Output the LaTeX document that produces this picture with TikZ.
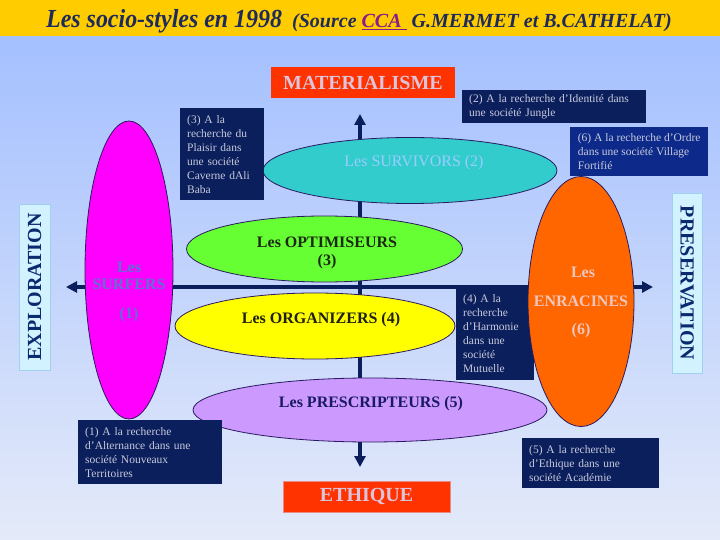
\documentclass[tikz,border=0pt]{standalone}
\usepackage{fontspec}
\setmainfont{Liberation Serif}
\usetikzlibrary{arrows.meta,shapes.geometric}
\definecolor{titleyellow}{HTML}{FFCC00}
\definecolor{bgtop}{HTML}{A4C0FF}
\definecolor{bgbottom}{HTML}{E4EAF9}
\definecolor{titletext}{HTML}{1C2A5C}
\definecolor{ccapurple}{HTML}{8B1A8B}
\definecolor{redbox}{HTML}{FF3300}
\definecolor{headtext}{HTML}{DCC4DC}
\definecolor{axisnavy}{HTML}{0A1E5C}
\definecolor{boxnavy}{HTML}{0B1F5C}
\definecolor{boxblue}{HTML}{0D2A8A}
\definecolor{boxtext}{HTML}{C8CADC}
\definecolor{sidefill}{HTML}{D2F2FF}
\definecolor{sideborder}{HTML}{A0D0EE}
\definecolor{sidetext}{HTML}{0A2A70}
\definecolor{surfmag}{HTML}{FF00FF}
\definecolor{surftext}{HTML}{5F70D4}
\definecolor{survcyan}{HTML}{33CCCC}
\definecolor{survtext}{HTML}{9ACCFF}
\definecolor{optgreen}{HTML}{66FF33}
\definecolor{opttext}{HTML}{1A2A10}
\definecolor{orgyellow}{HTML}{FFFF00}
\definecolor{orgtext}{HTML}{202010}
\definecolor{preslav}{HTML}{CC99FF}
\definecolor{prestext}{HTML}{1A1A60}
\definecolor{enrorange}{HTML}{FF6600}
\definecolor{enrtext}{HTML}{EEC6C0}
\definecolor{ellborder}{HTML}{2A1A60}
\begin{document}
\begin{tikzpicture}[x=1pt,y=-1pt,
  ell/.style={ellipse, draw=ellborder, line width=0.8pt, inner sep=0pt},
  elltext/.style={inner sep=0pt, font=\fontsize{16}{19}\selectfont\bfseries},
  infobox/.style={fill=boxnavy, text=boxtext, font=\fontsize{11.5}{14}\selectfont, align=left, inner xsep=7pt, inner ysep=0pt, anchor=north west},
  headbox/.style={fill=redbox, text=headtext, font=\fontsize{20}{23}\selectfont\bfseries, inner sep=0pt},
  sidebox/.style={fill=sidefill, draw=sideborder, line width=0.6pt, text=sidetext, font=\fontsize{20}{24}\selectfont\bfseries, inner sep=0pt},
  axisline/.style={draw=axisnavy, line width=4pt, -{Triangle[length=11pt,width=11pt]}}
]
\useasboundingbox (0,0) rectangle (720,540);
% background
\shade[top color=bgtop, bottom color=bgbottom] (0,36) rectangle (720,540);
\fill[titleyellow] (0,0) rectangle (720,36);
% title
\node[anchor=base west, inner sep=0pt, text=titletext, font=\fontsize{26}{30}\selectfont\bfseries\itshape] (title) at (46,28) {\scalebox{0.92}[1]{Les socio-styles en 1998}};
\node[anchor=base west, inner sep=0pt, text=titletext, font=\fontsize{20}{23}\selectfont\bfseries\itshape] (source) at (292,28) {\scalebox{1.0}[1]{(Source \textcolor{ccapurple}{\underline{CCA\ }} G.MERMET et B.CATHELAT)}};
% head boxes
\node[headbox, minimum width=184pt, minimum height=31pt] (mat) at (363,82.5) {MATERIALISME};
\node[headbox, draw=headtext!60!redbox, line width=0.5pt, minimum width=167pt, minimum height=31pt] (eth) at (366.5,496.5) {ETHIQUE};
% side boxes
\node[sidebox, rotate=90, minimum width=166pt, minimum height=31pt] (expl) at (34.5,287) {EXPLORATION};
\node[sidebox, rotate=-90, minimum width=180pt, minimum height=30pt] (pres) at (687,283) {PRESERVATION};
% axes
\coordinate (ctr) at (360,287);
\coordinate (uptip) at (360,114);
\coordinate (downtip) at (360,467);
\coordinate (lefttip) at (66,287);
\coordinate (righttip) at (653,287);
\draw[axisline] (ctr) -- (uptip);
\draw[axisline] (ctr) -- (downtip);
\draw[axisline] (ctr) -- (lefttip);
\draw[axisline] (ctr) -- (righttip);
% ellipses
\node[ell, fill=surfmag, minimum width=88pt, minimum height=298pt] (surfers) at (129,270) {};
\node[ell, fill=survcyan, minimum width=294pt, minimum height=66pt] (survivors) at (410,170.5) {};
\node[ell, fill=optgreen, minimum width=276pt, minimum height=66pt] (optim) at (324.5,249) {};
\node[ell, fill=orgyellow, minimum width=280pt, minimum height=66pt] (organ) at (315,326) {};
\node[ell, fill=preslav, minimum width=354pt, minimum height=64pt] (presc) at (370,410) {};
% box 4 under the orange ellipse
\node[infobox, text width=64pt, minimum height=94pt] (box4) at (456,286) {(4) A la\\recherche\\d’Harmonie\\dans une\\société\\Mutuelle};
\node[ell, fill=enrorange, minimum width=106pt, minimum height=250pt] (enrac) at (581,301.5) {};
% info boxes
\node[infobox, text width=70pt, minimum height=92pt] (box3) at (180,108) {(3) A la\\recherche du\\Plaisir dans\\une société\\Caverne dAli\\Baba};
\node[infobox, text width=170pt, minimum height=33pt] (box2) at (462,90) {(2) A la recherche d’Identité dans\\une société Jungle};
\node[infobox, fill=boxblue, inner xsep=0pt, minimum width=138pt, minimum height=49pt] (box6) at (570,127) {(6) A la recherche d’Ordre\\dans une société Village\\Fortifié};
\node[infobox, text width=130pt, minimum height=64pt] (box1) at (78,420) {(1) A la recherche\\d’Alternance dans une\\société Nouveaux\\Territoires};
\node[infobox, text width=123pt, minimum height=50pt] (box5) at (522,438) {(5) A la recherche\\d’Ethique dans une\\société Académie};
% ellipse texts
\node[elltext, text=surftext] (surfL1) at (129,267) {Les};
\node[elltext, text=surftext] (surfL2) at (129,284) {SURFERS};
\node[elltext, text=surftext] (surfL3) at (129,315) {(1)};
\node[elltext, text=survtext, font=\fontsize{16}{19}\selectfont] (survT) at (414,163) {Les SURVIVORS (2)};
\node[elltext, text=opttext] (optL1) at (327,242) {Les OPTIMISEURS};
\node[elltext, text=opttext] (optL2) at (327,262) {(3)};
\node[elltext, text=orgtext] (orgT) at (321,320) {Les ORGANIZERS (4)};
\node[elltext, text=prestext] (presT) at (371,404) {Les PRESCRIPTEURS (5)};
\node[elltext, text=enrtext] (enrL1) at (583,272) {Les};
\node[elltext, text=enrtext] (enrL2) at (581,301) {ENRACINES};
\node[elltext, text=enrtext] (enrL3) at (581,331) {(6)};
\end{tikzpicture}
\end{document}
